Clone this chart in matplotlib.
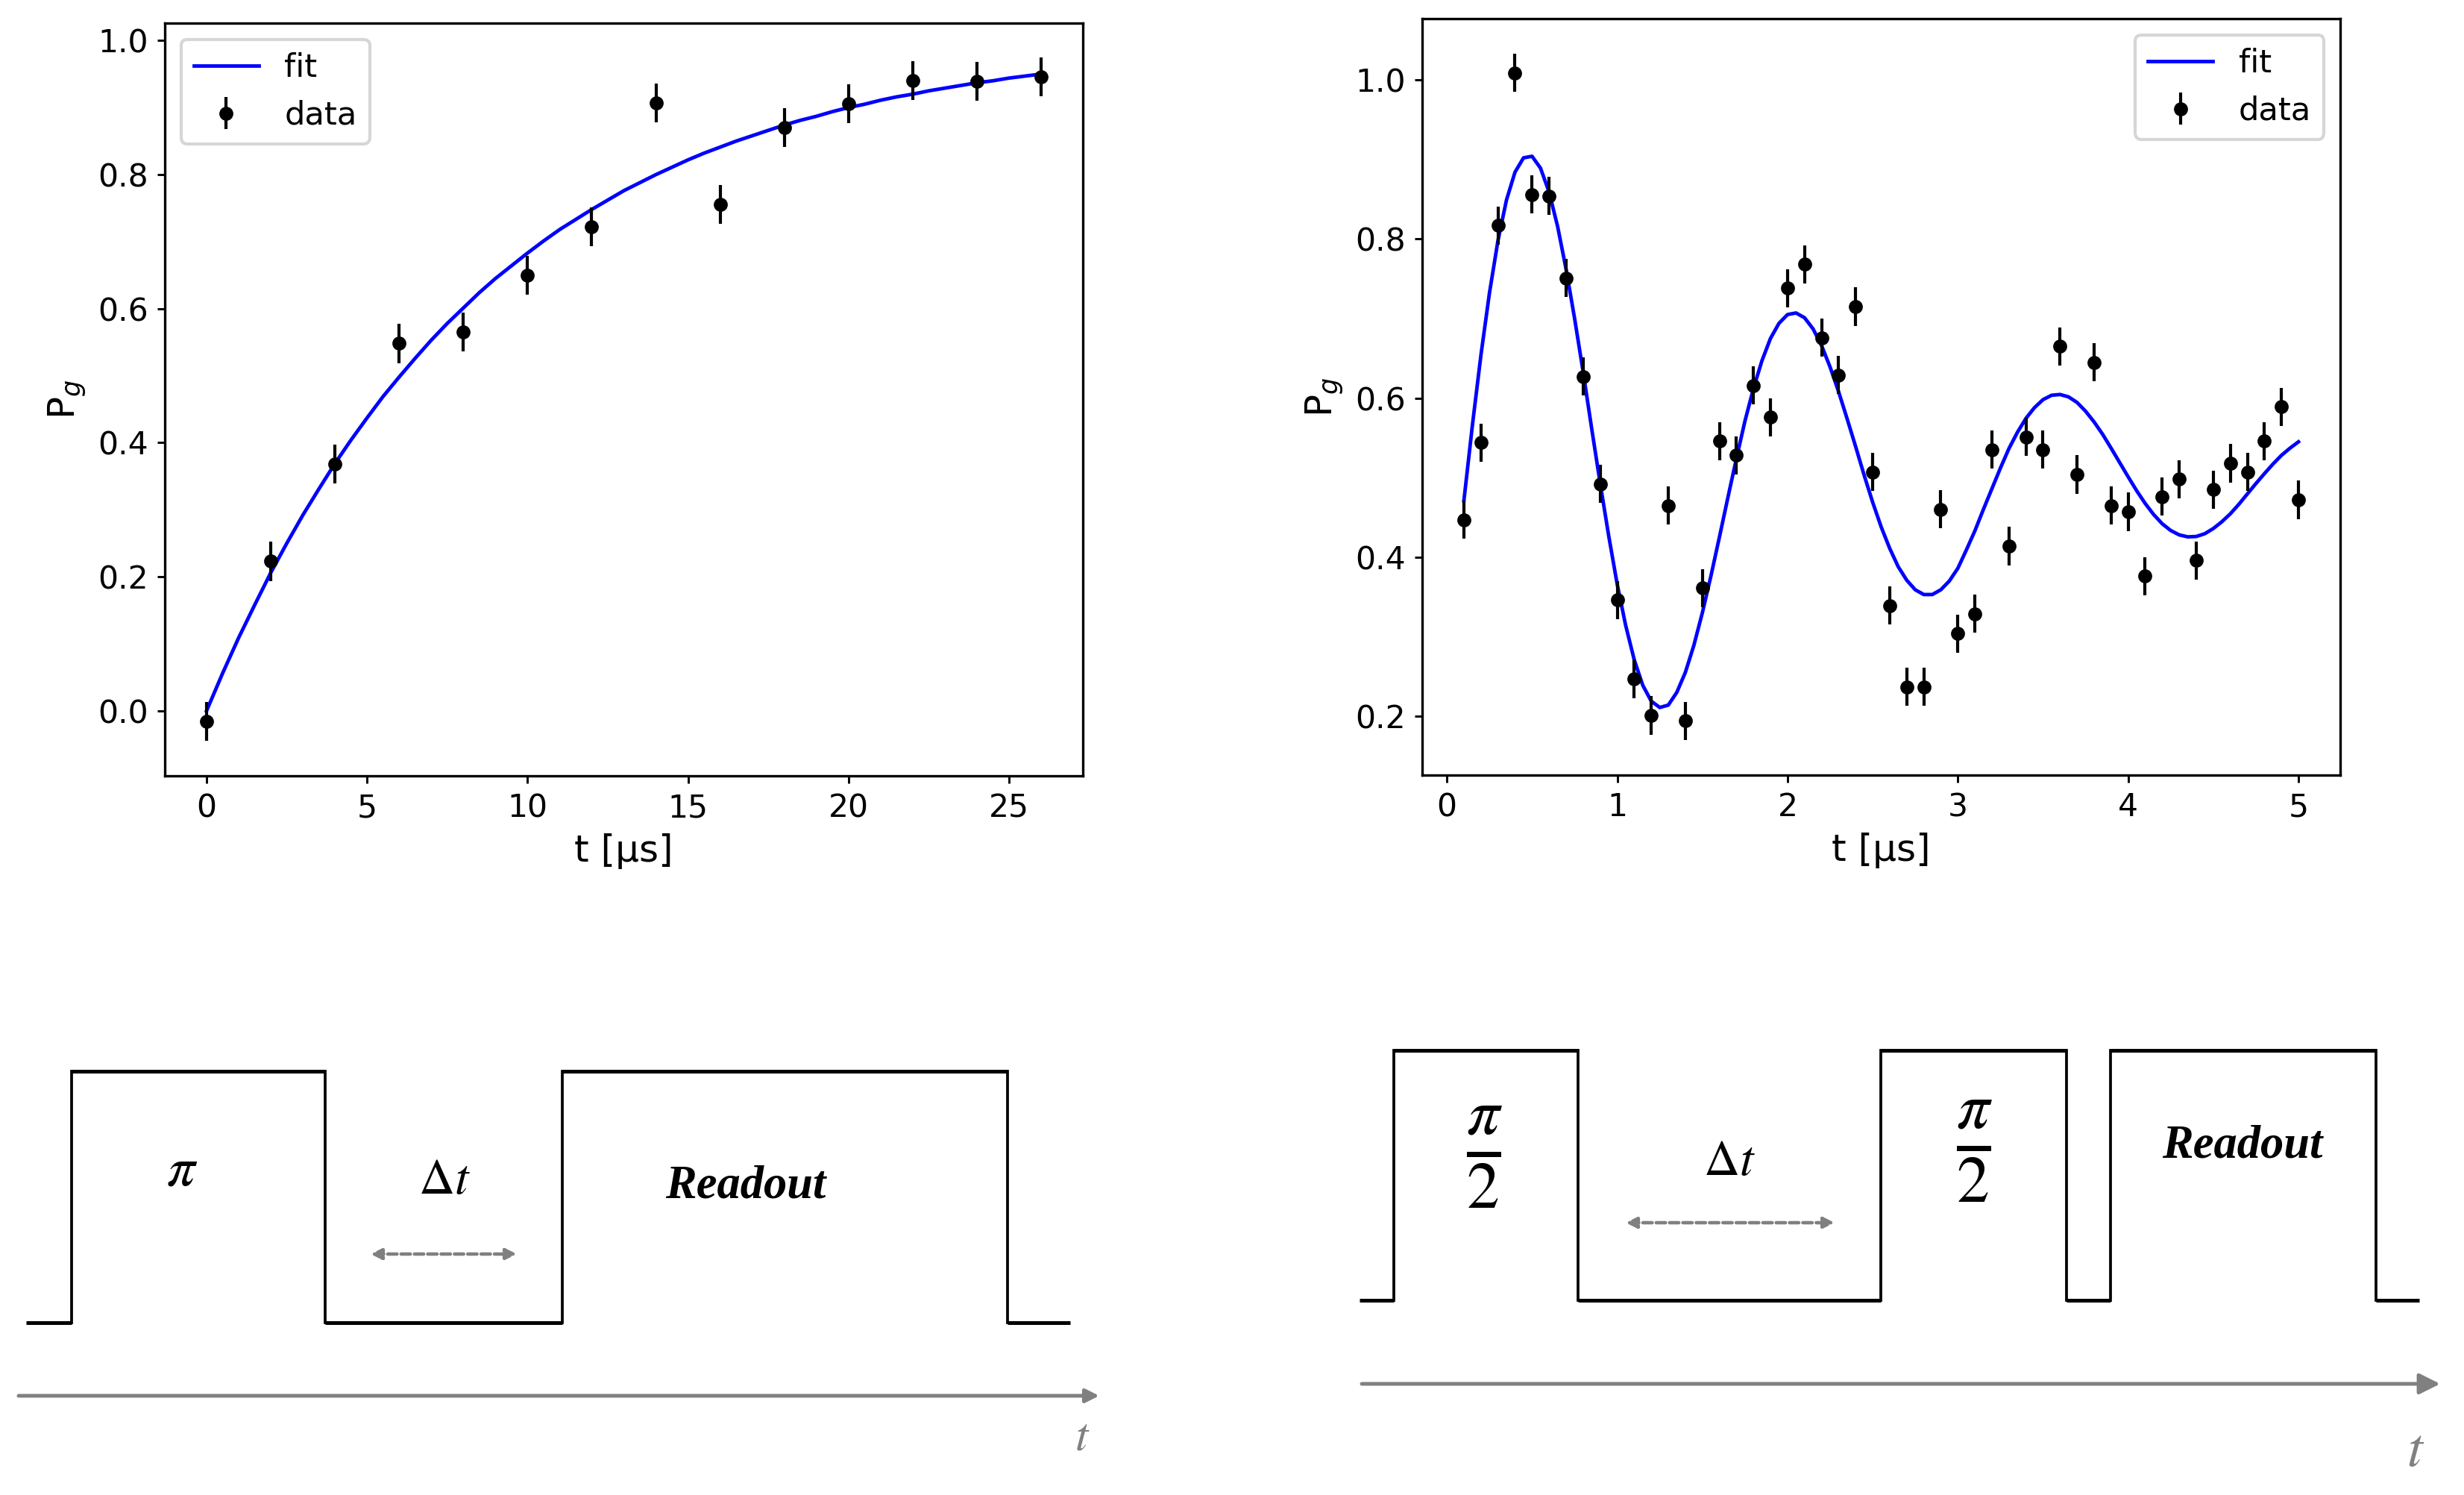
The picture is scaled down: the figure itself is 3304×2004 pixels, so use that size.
import matplotlib
matplotlib.use('Agg')
import matplotlib.pyplot as plt

W, H = 3304, 2004
DPI = 300

# T1 decay
t1_x = [0, 2, 4, 6, 8, 10, 12, 14, 16, 18, 20, 22, 24, 26]
t1_y = [-0.016, 0.223, 0.368, 0.548, 0.565, 0.650, 0.722, 0.907, 0.756, 0.870, 0.906, 0.940, 0.939, 0.946]
t1_err = 0.029
t1_fit_x = [i / 2 for i in range(53)]
t1_fit_y = [0.0, 0.056, 0.109, 0.158, 0.206, 0.250, 0.292, 0.331, 0.369, 0.404, 0.437, 0.469, 0.498,
            0.526, 0.553, 0.578, 0.601, 0.624, 0.645, 0.664, 0.683, 0.701, 0.718, 0.733, 0.748, 0.762,
            0.776, 0.788, 0.800, 0.811, 0.822, 0.832, 0.841, 0.850, 0.858, 0.866, 0.874, 0.881, 0.887,
            0.894, 0.900, 0.905, 0.911, 0.916, 0.920, 0.925, 0.929, 0.933, 0.937, 0.940, 0.944, 0.947, 0.950]

# Ramsey
ramsey_x = [i / 10 for i in range(1, 51)]
ramsey_y = [0.447, 0.544, 0.817, 1.009, 0.856, 0.854, 0.751, 0.627, 0.492, 0.346,
            0.247, 0.201, 0.465, 0.194, 0.361, 0.546, 0.528, 0.616, 0.576, 0.738,
            0.768, 0.676, 0.629, 0.715, 0.507, 0.339, 0.237, 0.237, 0.460, 0.304,
            0.329, 0.535, 0.414, 0.551, 0.535, 0.665, 0.504, 0.645, 0.465, 0.457,
            0.376, 0.476, 0.498, 0.396, 0.485, 0.518, 0.507, 0.546, 0.589, 0.472]
ramsey_err = 0.024
ramsey_fit_x = [i / 20 for i in range(2, 101)]
ramsey_fit_y = [0.471, 0.566, 0.654, 0.732, 0.798, 0.849, 0.884, 0.902, 0.904, 0.889,
                0.859, 0.816, 0.762, 0.700, 0.633, 0.562, 0.493, 0.427, 0.366, 0.314,
                0.271, 0.239, 0.219, 0.211, 0.214, 0.230, 0.255, 0.289, 0.330, 0.376,
                0.425, 0.475, 0.524, 0.571, 0.612, 0.647, 0.675, 0.694, 0.705, 0.707,
                0.701, 0.687, 0.666, 0.639, 0.608, 0.574, 0.539, 0.503, 0.469, 0.438,
                0.411, 0.388, 0.371, 0.359, 0.353, 0.353, 0.359, 0.370, 0.386, 0.409,
                0.433, 0.460, 0.486, 0.512, 0.5365, 0.557, 0.5745, 0.588, 0.598, 0.6035,
                0.6045, 0.6015, 0.5945, 0.5835, 0.570, 0.5545, 0.537, 0.519, 0.501, 0.4835,
                0.4675, 0.4535, 0.442, 0.4335, 0.428, 0.4255, 0.426, 0.4295, 0.436, 0.4445,
                0.4545, 0.4665, 0.4795, 0.4925, 0.505, 0.517, 0.528, 0.537, 0.545]

# pulse sequences, in image pixels
seq1_edges = [35, 96, 436, 754, 1351, 1435]
seq1_levels = [1773, 1436, 1773, 1436, 1773]
seq2_edges = [1823, 1869, 2116, 2522, 2771, 2830, 3186, 3244]
seq2_levels = [1743, 1408, 1743, 1408, 1743, 1408, 1743]


def axes_px(x0, y0, x1, y1):
    return fig.add_axes([x0 / W, 1 - y1 / H, (x1 - x0) / W, (y1 - y0) / H])


def plot_data(ax, x, y, err, fx, fy, loc):
    ax.plot(fx, fy, color='blue', label='fit', lw=1.15)
    ax.errorbar(x, y, yerr=err, fmt='o', color='black', ms=3.5, elinewidth=1.0, label='data')
    ax.set_xlabel('t [µs]', fontsize=12, labelpad=3)
    ax.set_ylabel('P$_g$', fontsize=12, labelpad=3)
    ax.tick_params(labelsize=10.2, length=2.4, width=0.7, pad=3)
    ax.legend(loc=loc, fontsize=10.4)


def draw_sequence(ax, edges, levels):
    for i, lev in enumerate(levels):
        ax.plot([edges[i], edges[i + 1]], [lev, lev], color='black', lw=1.2, solid_capstyle='butt')
    for i in range(1, len(levels)):
        ax.plot([edges[i], edges[i]], [levels[i - 1], levels[i]], color='black', lw=0.9)


def arrow(ax, x0, x1, y, style, lw, scale, ls='-'):
    ax.annotate('', xy=(x1, y), xytext=(x0, y),
                arrowprops=dict(arrowstyle=style, color=grey, lw=lw, ls=ls, mutation_scale=scale,
                                shrinkA=0, shrinkB=0))


plt.rcParams['mathtext.fontset'] = 'dejavusans'
fig = plt.figure(figsize=(W / DPI, H / DPI), dpi=DPI)

ax1 = axes_px(221, 31, 1452, 1040)
plot_data(ax1, t1_x, t1_y, t1_err, t1_fit_x, t1_fit_y, 'upper left')
ax1.set_xlim(-1.3, 27.3)
ax1.set_ylim(-0.097, 1.026)

ax2 = axes_px(1907, 25, 3138, 1039)
plot_data(ax2, ramsey_x, ramsey_y, ramsey_err, ramsey_fit_x, ramsey_fit_y, 'upper right')
ax2.set_xlim(-0.145, 5.245)
ax2.set_ylim(0.126, 1.077)

# overlay for the two pulse diagrams
ov = fig.add_axes([0, 0, 1, 1])
ov.set_xlim(0, W)
ov.set_ylim(H, 0)
ov.axis('off')
ov.patch.set_alpha(0)

draw_sequence(ov, seq1_edges, seq1_levels)
draw_sequence(ov, seq2_edges, seq2_levels)

grey = '#808080'
dash = (0, (2.7, 1.2))
arrow(ov, 25, 1474, 1871, '-|>', 1.2, 9)
arrow(ov, 1826, 3272, 1855, '-|>', 1.2, 14)
arrow(ov, 497, 693, 1681, '<|-|>', 1.1, 7, dash)
arrow(ov, 2180, 2460, 1639, '<|-|>', 1.1, 7, dash)

math_font = dict(ha='center', va='center', math_fontfamily='stix')
read_font = dict(fontsize=15, family='Liberation Serif', style='italic', weight='bold', ha='center', va='center')
ov.text(244, 1568, r'$\pi$', fontsize=18, **math_font)
ov.text(596, 1581, r'$\Delta t$', fontsize=16, **math_font)
ov.text(1000, 1591, 'Readout', **read_font)
ov.text(1451, 1927, r'$t$', fontsize=15, color=grey, **math_font)

ov.text(1990, 1552, r'$\frac{\pi}{2}$', fontsize=30, **math_font)
ov.text(2647, 1544, r'$\frac{\pi}{2}$', fontsize=30, **math_font)
ov.text(2319, 1556, r'$\Delta t$', fontsize=16, **math_font)
ov.text(3007, 1536, 'Readout', **read_font)
ov.text(3239, 1944, r'$t$', fontsize=18, color=grey, **math_font)

fig.savefig('out.png', dpi=DPI)
